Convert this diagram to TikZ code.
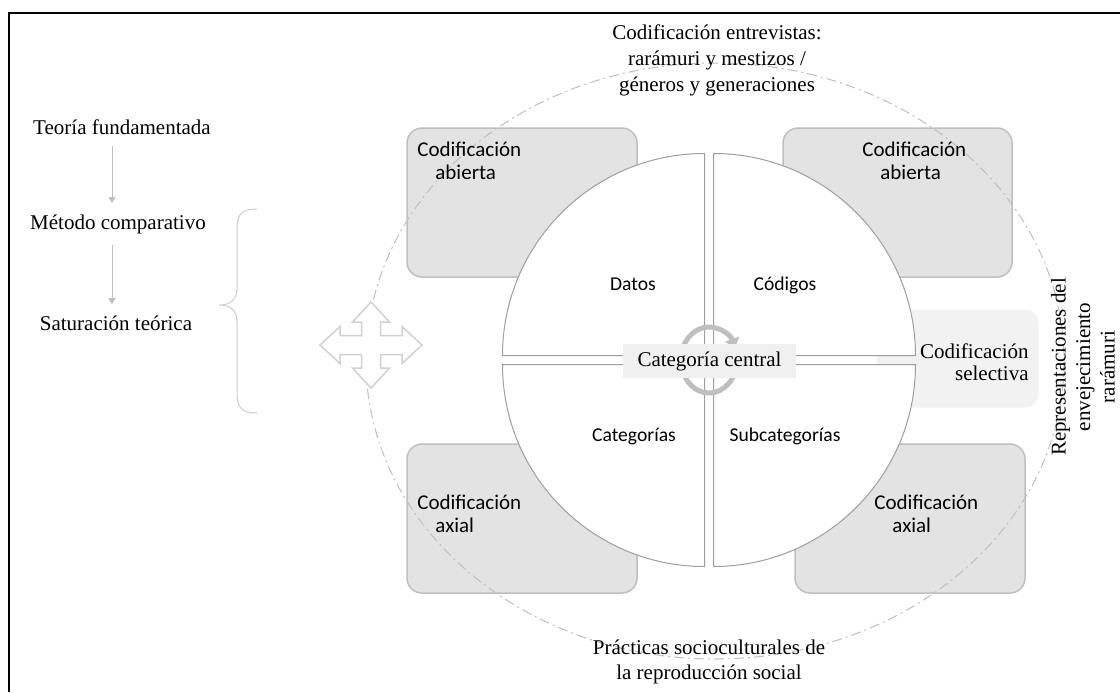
\documentclass[tikz,border=0pt]{standalone}
\usepackage{fontspec}
\setmainfont{Liberation Serif}
\newfontfamily\calibri{Carlito}
\usetikzlibrary{arrows.meta}
\tikzset{
  caja/.style={draw=black!25, fill=black!11, line width=0.75pt, rounded corners=7.5pt},
  cuadrante/.style={draw=black!38, fill=white, line width=0.5pt},
  rotulo/.style={font=\calibri\fontsize{10.5}{11.5}\selectfont, align=left, inner sep=0pt},
  sector/.style={font=\calibri\fontsize{9.8}{11}\selectfont, inner sep=0pt},
  serif/.style={font=\fontsize{10.5}{13}\selectfont, align=center, inner sep=0pt},
  paso/.style={font=\fontsize{10.5}{13}\selectfont, inner sep=5.5pt},
  flecha/.style={draw=black!25, line width=0.5pt, -{Triangle[width=3.5pt,length=3pt]}},
  contorno/.style={draw=black!25, line width=0.5pt, dash pattern=on 5pt off 2pt on 1pt off 2pt},
  anillo/.style={draw=black!25, line width=2.5pt},
}

\begin{document}
\begin{tikzpicture}[x=0.5pt, y=-0.5pt]
\useasboundingbox (0,0) rectangle (1120,692);

% marco
\draw[line width=1pt] (9,692) -- (9,13) -- (1120,13);

% columna izquierda
\node[paso] (teoria) at (122,127) {Teoría fundamentada};
\node[paso] (metodo) at (118,224) {Método comparativo};
\node[paso] (saturacion) at (116,323) {Saturación teórica};

\draw[flecha] ([xshift=-3pt]metodo.north |- teoria.south) -- ([xshift=-3pt]metodo.north);
\draw[flecha] ([xshift=-3pt]metodo.south) -- ([xshift=-3pt]metodo.south |- saturacion.north);

% llave
\draw[draw=black!20, line width=0.5pt] (257,209) .. controls (242,209) and (237,214) .. (237,229)
  -- (237,288) .. controls (237,300) and (230,305) .. (219,305)
  .. controls (230,305) and (237,310) .. (237,322)
  -- (237,393) .. controls (237,408) and (242,413) .. (257,413);

% cajas
\draw[fill=black!5, draw=black!4, line width=0.5pt, rounded corners=6pt] (877,310) rectangle (1038,407);
\draw[caja] (407,128) rectangle (637,277);
\draw[caja] (783,128) rectangle (1012,277);
\draw[caja] (407,444) rectangle (637,593);
\draw[caja] (795,444) rectangle (1025,593);

\draw[contorno] (715,361) ellipse[x radius=349, y radius=298];

% flecha de cuatro puntas
\begin{scope}[shift={(371,345)}]
\draw[draw=black!18, fill=white, line width=0.75pt] (0,-43) -- (18.5,-23) -- (9.5,-23) -- (9.5,-9.5) -- (31,-9.5)
  -- (31,-18.5) -- (51,0) -- (31,18.5) -- (31,9.5) -- (9.5,9.5) -- (9.5,23) -- (18.5,23)
  -- (0,43) -- (-18.5,23) -- (-9.5,23) -- (-9.5,9.5) -- (-31,9.5) -- (-31,18.5) -- (-51,0)
  -- (-31,-18.5) -- (-31,-9.5) -- (-9.5,-9.5) -- (-9.5,-23) -- (-18.5,-23) -- cycle;
\end{scope}

% circulo
\draw[cuadrante] (704.5,355.5) -- ++(-202,0) arc[start angle=180, end angle=270, radius=202] -- cycle;
\draw[cuadrante] (713.5,355.5) -- ++(202,0) arc[start angle=0, end angle=-90, radius=202] -- cycle;
\draw[cuadrante] (704.5,364.5) -- ++(-202,0) arc[start angle=180, end angle=90, radius=202] -- cycle;
\draw[cuadrante] (713.5,364.5) -- ++(202,0) arc[start angle=0, end angle=90, radius=202] -- cycle;

\node[sector] (datos) at (633,284) {Datos};
\node[sector] (codigos) at (785,285) {Códigos};
\node[sector] (categorias) at (634,436) {Categorías};
\node[sector] (subcategorias) at (785,436) {Subcategorías};

\draw[anillo, -{Triangle[width=7.5pt,length=4.5pt]}] (709,360) ++(180:28 and 33)
  arc[start angle=180, end angle=338, x radius=28, y radius=33];
\draw[anillo] (709,360) ++(0:28 and 33) arc[start angle=0, end angle=170, x radius=28, y radius=33];

\node[fill=black!6, inner sep=0pt, minimum width=86.5pt, minimum height=17pt,
  font=\fontsize{10.5}{13}\selectfont] (central) at (709.5,361) {Categoría central};

% textos de las cajas
\node[rotulo, anchor=west] (abierta1) at (417,161) {Codificación\\\hspace*{9pt}abierta};
\node[rotulo, anchor=west] (abierta2) at (862,161) {Codificación\\\hspace*{9pt}abierta};
\node[rotulo, anchor=west] (axial1) at (417,514) {Codificación\\\hspace*{9pt}axial};
\node[rotulo, anchor=west] (axial2) at (874,514) {Codificación\\\hspace*{9pt}axial};
\node[serif, align=right, anchor=east, font=\fontsize{10.5}{11}\selectfont] (selectiva) at (1029,362) {Codificación\\selectiva};

% textos exteriores
\node[serif] (entrevistas) at (717,60) {Codificación entrevistas:\\rarámuri y mestizos /\\géneros y generaciones};
\node[serif, font=\fontsize{10.5}{12.5}\selectfont] (practicas) at (709,662) {Prácticas socioculturales de\\la reproducción social};
\node[serif, rotate=90, font=\fontsize{10.5}{12.25}\selectfont] (representaciones) at (1083,367) {Representaciones del\\envejecimiento\\rarámuri};
\end{tikzpicture}
\end{document}
